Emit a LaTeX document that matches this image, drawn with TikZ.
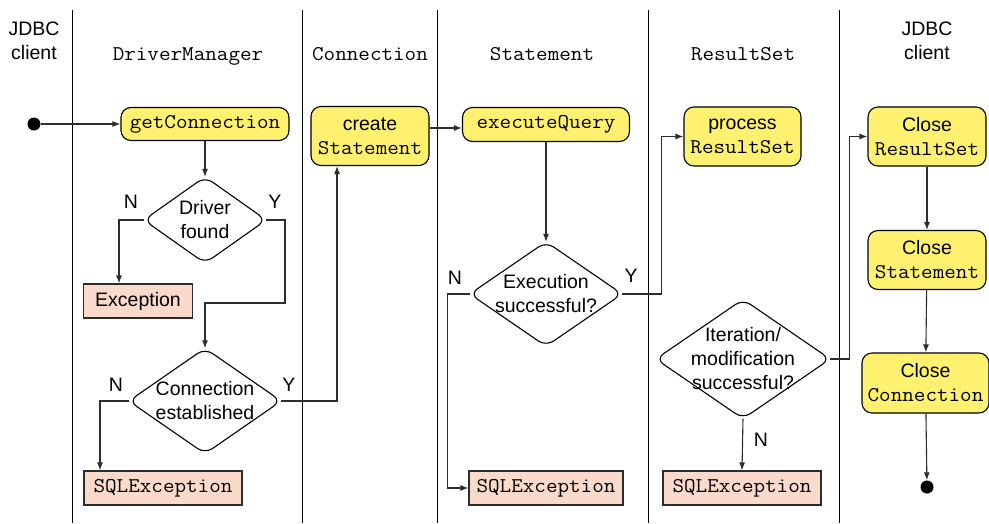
\documentclass[tikz,border=0pt]{standalone}
\usepackage{fontspec}
\setmainfont{Liberation Sans}
\setmonofont[FakeStretch=1.07]{Latin Modern Mono}
\usetikzlibrary{arrows.meta}
\definecolor{actyellow}{RGB}{255,241,112}
\definecolor{excpink}{RGB}{250,218,203}
\definecolor{ln}{RGB}{45,45,45}
\newcommand\mytt{\fontsize{21}{24}\selectfont\ttfamily}
\begin{document}
\begin{tikzpicture}[x=1pt,y=-1pt,
  every node/.style={font=\fontsize{19.5}{24}\selectfont, inner sep=0pt},
  act/.style={draw=black, fill=actyellow, rounded corners=10pt, line width=1.1pt, align=center},
  exc/.style={draw=ln, fill=excpink, line width=1.1pt, align=center},
  dia/.style={align=center},
  dshape/.style={draw=black, line width=1.1pt, rounded corners=9pt},
  lane/.style={draw=black, line width=0.9pt},
  arr/.style={draw=ln, line width=1.1pt, -{Latex[length=8pt,width=6pt]}},
  dot/.style={circle, fill=black, minimum size=13pt},
  hdr/.style={anchor=base},
  lbl/.style={}
]
\useasboundingbox (0,0) rectangle (989,523);
% swimlane separators
\foreach \x in {72,302,437,648,839} \draw[lane] (\x,10) -- (\x,523);
% headers
\node[align=center] (h1) at (34,41) {JDBC\\client};
\node[hdr] (h2) at (188,60) {\mytt DriverManager};
\node[hdr] (h3) at (370,60) {\mytt Connection};
\node[hdr] (h4) at (542,60) {\mytt Statement};
\node[hdr] (h5) at (743,60) {\mytt ResultSet};
\node[align=center] (h6) at (927,41) {JDBC\\client};
% nodes
\node[dot] (start) at (34,124) {};
\node[act, minimum width=168pt, minimum height=33pt] (getc) at (205,124) {\mytt getConnection};
\node[dia, minimum width=122pt, minimum height=86pt] (drv) at (205,220) {Driver\\found};
\node[exc, minimum width=109pt, minimum height=34pt] (exc1) at (138,301) {Exception};
\node[dia, minimum width=152pt, minimum height=105pt] (conn) at (205,401) {Connection\\established};
\node[exc, minimum width=158pt, minimum height=34pt] (sql1) at (163,488) {\mytt SQLException};
\node[act, minimum width=118pt, minimum height=59pt] (crs) at (370,136) {create\\\mytt Statement};
\node[act, minimum width=167pt, minimum height=34pt] (exq) at (546,124.5) {\mytt executeQuery};
\node[dia, minimum width=152pt, minimum height=104pt] (exd) at (546,294) {Execution\\successful?};
\node[exc, minimum width=154pt, minimum height=34pt] (sql2) at (546,488) {\mytt SQLException};
\node[act, minimum width=117pt, minimum height=59pt] (prs) at (742.5,136.5) {process\\\mytt ResultSet};
\node[dia, minimum width=174pt, minimum height=119pt] (itd) at (743,359) {Iteration/\\modification\\successful?};
\node[exc, minimum width=158pt, minimum height=34pt] (sql3) at (742,488) {\mytt SQLException};
\node[act, minimum width=118pt, minimum height=59pt] (clr) at (927,136.5) {Close\\\mytt ResultSet};
\node[act, minimum width=118pt, minimum height=59pt] (cls) at (927,260) {Close\\\mytt Statement};
\node[act, minimum width=127pt, minimum height=60pt] (clc) at (925.5,383) {Close\\\mytt Connection};
\node[dot] (end) at (927,487) {};
% diamond outlines
\foreach \d in {drv,conn,exd,itd}
  \draw[dshape] (\d.north) -- (\d.east) -- (\d.south) -- (\d.west) -- cycle;
% labels
\node[lbl] (n1) at (131,202) {N};
\node[lbl] (y1) at (275,202) {Y};
\node[lbl] (n2) at (116,385) {N};
\node[lbl] (y2) at (289,385) {Y};
\node[lbl] (n3) at (455,278) {N};
\node[lbl] (y3) at (631,276) {Y};
\node[lbl] (n4) at (761,440) {N};
% connectors
\draw[arr] (start) -- (getc.west);
\draw[arr] (getc) -- (drv.north);
\draw[arr] (drv.west) -| ([xshift=-19pt]exc1.north);
\draw[arr] (drv.east) -| (285,303) -| (conn.north);
\draw[arr] (conn.west) -| ([xshift=-63pt]sql1.north);
\draw[arr] (conn.east) -| ([xshift=-33pt]crs.south);
\draw[arr] ([yshift=8pt]crs.east) -- ([yshift=8pt]crs.east -| exq.west);
\draw[arr] (exq) -- (exd.north);
\draw[arr] (exd.west) -| ([xshift=-21pt]sql2.west) -- (sql2.west);
\draw[arr] (exd.east) -| ([xshift=-22pt]prs.west) -- (prs.west);
\draw[arr] (itd.east) -| ([xshift=-18pt]clr.west) -- (clr.west);
\draw[arr] (itd.south) -- (sql3.north);
\draw[arr] (clr) -- (cls);
\draw[arr] (cls) -- (clc);
\draw[arr] (clc) -- (end);
\end{tikzpicture}
\end{document}
